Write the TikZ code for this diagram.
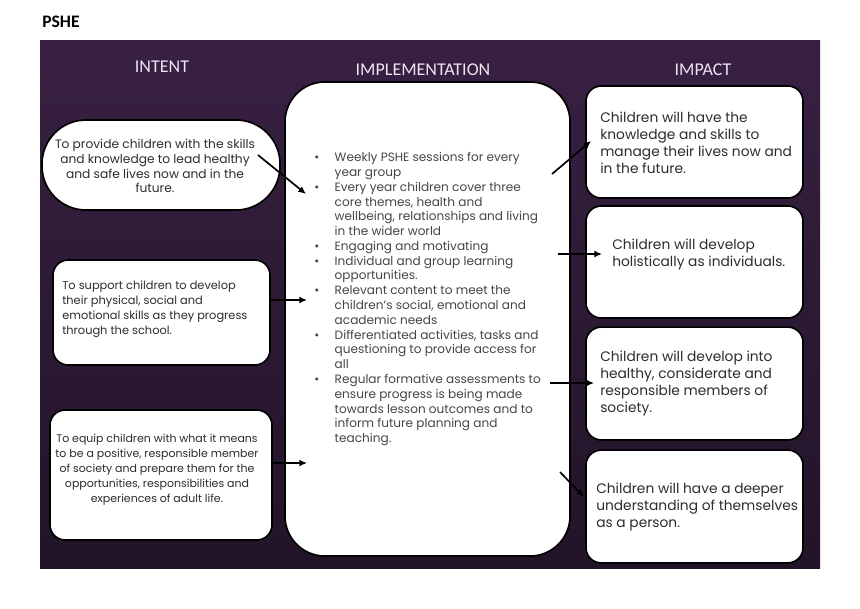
\documentclass[tikz,border=0pt]{standalone}
\usepackage{fontspec}
\setmainfont{Poppins}
\newfontfamily\headfont{Carlito}
\usetikzlibrary{arrows.meta}

\definecolor{bgtop}{RGB}{56,32,66}
\definecolor{bgbot}{RGB}{34,20,40}
\definecolor{headtxt}{RGB}{236,228,242}
\definecolor{boxtxt}{RGB}{45,45,45}
\definecolor{listtxt}{RGB}{70,70,70}

\tikzset{
  card/.style={draw=black, line width=1.2pt, fill=white, rounded corners=0.38cm,
    inner sep=0pt, minimum width=#1},
  head/.style={text=headtxt, font=\headfont\fontsize{12.8}{14}\selectfont},
  intxt/.style={text=boxtxt, inner sep=0pt},
  imtxt/.style={text=boxtxt, font=\fontsize{9.8}{12}\selectfont, inner sep=0pt, align=left, anchor=north west},
  arr/.style={-{Latex[length=5.5pt,width=5pt]}, line width=1.2pt, black}
}

\begin{document}
\begin{tikzpicture}[x=0.025cm, y=-0.025cm]
    \useasboundingbox (0,0) rectangle (860,608);

    % Title and background
    \node[font=\headfont\bfseries\fontsize{12.5}{14}\selectfont, anchor=west, inner sep=0pt] (title) at (42,22) {PSHE};
    \shade[top color=bgtop, bottom color=bgbot] (40,40) rectangle (820,568);

    % Column headings
    \node[head] (hint) at (162,67) {INTENT};
    \node[head] (himpl) at (423,70) {IMPLEMENTATION};
    \node[head] (himp) at (703,70) {IMPACT};

    % Intent
    \node[card=5.95cm, minimum height=2.25cm, rounded corners=1.1cm] (in1) at (161,165) {};
    \node[card=5.425cm, minimum height=2.625cm] (in2) at (161.5,312.5) {};
    \node[card=5.55cm, minimum height=3.25cm] (in3) at (161,475) {};

    \node[intxt, font=\fontsize{8.7}{10.6}\selectfont, align=center] (t1) at (155,166) {To provide children with the skills\\
      and knowledge to lead healthy\\ and safe lives now and in the\\ future.};
    \node[intxt, font=\fontsize{8.1}{10.6}\selectfont, align=left, anchor=north west] (t2) at (62,281) {To support children to develop\\
      their physical, social and\\ emotional skills as they progress\\ through the school.};
    \node[intxt, font=\fontsize{7.8}{10.6}\selectfont, align=center] (t3) at (157,470) {To equip children with what it means\\
      to be a positive, responsible member\\ of society and prepare them for the\\
      opportunities, responsibilities and\\ experiences of adult life.};

    % Implementation
    \node[card=7.125cm, minimum height=11.85cm, rounded corners=1cm] (impl) at (427.5,319) {};
    \node[anchor=north west, inner sep=0pt, text=listtxt, font=\fontsize{8.6}{10.52}\selectfont] (list) at (314,151) {%
      \begin{tabular}{@{}l@{\hspace{11pt}}l@{}}
        \textbullet & Weekly PSHE sessions for every\\
                    & year group\\
        \textbullet & Every year children cover three\\
                    & core themes, health and\\
                    & wellbeing, relationships and living\\
                    & in the wider world\\
        \textbullet & Engaging and motivating\\
        \textbullet & Individual and group learning\\
                    & opportunities.\\
        \textbullet & Relevant content to meet the\\
                    & children's social, emotional and\\
                    & academic needs\\
        \textbullet & Differentiated activities, tasks and\\
                    & questioning to provide access for\\
                    & all\\
        \textbullet & Regular formative assessments to\\
                    & ensure progress is being made\\
                    & towards lesson outcomes and to\\
                    & inform future planning and\\
                    & teaching.
      \end{tabular}};

    % Impact
    \node[card=5.425cm, minimum height=2.8cm] (im1) at (694.5,142) {};
    \node[card=5.425cm, minimum height=2.8cm] (im2) at (694.5,262) {};
    \node[card=5.425cm, minimum height=2.82cm] (im3) at (694.5,383.5) {};
    \node[card=5.425cm, minimum height=2.82cm] (im4) at (694.5,506.5) {};

    \node[imtxt] (u1) at (600,112) {Children will have the\\ knowledge and skills to\\
      manage their lives now and\\ in the future.};
    \node[imtxt] (u2) at (612,239) {Children will develop\\ holistically as individuals.};
    \node[imtxt] (u3) at (600,351) {Children will develop into\\ healthy, considerate and\\
      responsible members of\\ society.};
    \node[imtxt] (u4) at (596,483) {Children will have a deeper\\ understanding of themselves\\ as a person.};

    % Arrow ends
    \coordinate (a1s) at (258,155); \coordinate (a1e) at (306,194);
    \coordinate (a2s) at (271,300); \coordinate (a2e) at (307,300);
    \coordinate (a3s) at (272,463); \coordinate (a3e) at (307,463);
    \coordinate (a4s) at (552,174); \coordinate (a4e) at (591,141);
    \coordinate (a5s) at (558,254); \coordinate (a5e) at (602,254);
    \coordinate (a6s) at (550,383); \coordinate (a6e) at (594,383);
    \coordinate (a7s) at (560,472); \coordinate (a7e) at (584,497);

    % Arrows
    \draw[arr] (a1s) -- (a1e);
    \draw[arr] (a2s) -- (a2e);
    \draw[arr] (a3s) -- (a3e);
    \draw[arr] (a4s) -- (a4e);
    \draw[arr] (a5s) -- (a5e);
    \draw[arr] (a6s) -- (a6e);
    \draw[arr] (a7s) -- (a7e);
\end{tikzpicture}
\end{document}
